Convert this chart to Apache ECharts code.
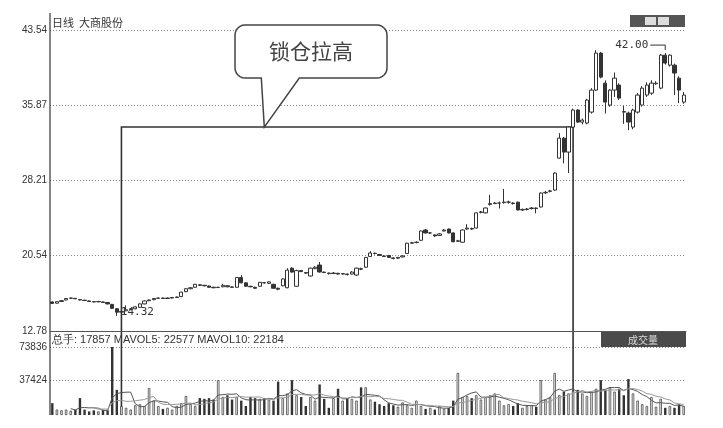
<!DOCTYPE html>
<html><head><meta charset="utf-8">
<script src="https://cdn.jsdelivr.net/npm/echarts@6/dist/echarts.min.js"></script>
<style>html,body{margin:0;padding:0;background:#fff}#c{width:723px;height:428px}</style>
</head><body><div id="c"></div>
<script>
// ---------- data ----------
const stockTitle = '日线  大商股份';
const calloutText = '锁仓拉高';
const priceTicks = [12.78, 20.54, 28.21, 35.87, 43.54];
const volTicks = [37424, 73836];
const volInfo = '总手: 17857 MAVOL5: 22577 MAVOL10: 22184';
const volButton = '成交量';
const highLabel = '42.00';
const lowLabel = '14.32';
// [open, close, low, high]
const candles = [
[15.75,15.60,15.55,15.80],[15.62,15.78,15.58,15.82],[15.80,15.88,15.75,15.95],[15.95,16.10,15.90,16.15],
[16.12,16.15,16.08,16.20],[16.12,16.08,16.02,16.15],[16.00,15.95,15.90,16.05],[15.92,15.90,15.85,15.98],
[15.85,15.80,15.75,15.90],[15.78,15.75,15.70,15.82],[15.76,15.80,15.72,15.85],[15.75,15.70,15.65,15.80],
[15.70,15.55,15.50,15.72],[15.50,15.10,15.05,15.55],[15.05,14.70,14.32,15.10],[14.70,14.78,14.60,14.85],
[14.85,14.95,14.80,15.40],[14.98,15.05,14.90,15.10],[15.05,15.25,15.00,15.30],[15.20,15.55,15.15,15.60],
[15.55,15.85,15.50,15.90],[15.88,15.95,15.82,16.00],[15.98,16.10,15.92,16.15],[16.12,16.15,16.08,16.20],
[16.15,16.10,16.05,16.20],[16.10,16.15,16.05,16.20],[16.15,16.20,16.10,16.25],[16.20,16.25,16.15,16.30],
[16.30,16.75,16.25,16.80],[16.80,17.10,16.75,17.15],[17.10,17.20,17.05,17.25],[17.25,17.55,17.20,17.60],
[17.50,17.45,17.38,17.55],[17.45,17.40,17.35,17.50],[17.38,17.25,17.20,17.42],[17.25,17.20,17.15,17.30],
[17.22,17.25,17.18,17.30],[17.30,17.45,17.25,17.60],[17.40,17.30,17.25,17.45],[17.28,17.25,17.20,17.32],
[17.25,18.25,17.20,18.30],[18.25,17.70,17.65,18.50],[17.70,17.35,17.30,17.75],[17.35,17.30,17.25,17.40],
[17.25,17.15,17.10,17.30],[17.35,17.75,17.30,17.80],[17.72,17.70,17.62,17.78],[17.65,17.80,17.60,17.85],
[17.55,17.15,17.10,17.60],[17.15,17.05,16.95,17.20],[17.40,18.10,17.35,18.15],[17.20,19.00,17.15,19.20],
[19.20,18.80,18.75,19.30],[17.35,18.95,17.30,19.05],[18.95,18.85,18.80,19.00],[18.75,18.70,18.60,18.80],
[18.40,19.20,18.35,19.25],[19.15,19.30,19.10,19.40],[19.52,18.81,18.75,19.83],[18.80,18.75,18.70,18.85],
[18.70,18.65,18.55,18.75],[18.65,18.70,18.60,18.80],[18.68,18.60,18.55,18.72],[18.60,18.65,18.55,18.70],
[18.60,18.55,18.45,18.65],[18.60,18.80,18.55,18.90],[18.50,19.20,18.40,19.25],[19.15,19.10,19.00,19.25],
[19.30,20.30,19.25,20.35],[20.40,20.75,20.35,20.95],[20.72,20.70,20.60,20.80],[20.60,20.50,20.45,20.65],
[20.45,20.40,20.35,20.50],[20.50,20.30,20.25,20.55],[20.25,20.20,20.10,20.30],[20.22,20.30,20.15,20.35],
[20.35,20.45,20.30,20.50],[20.70,21.75,20.65,21.80],[21.75,21.80,21.70,21.90],[21.82,21.85,21.75,21.95],
[22.05,23.00,22.00,23.05],[23.10,22.80,22.75,23.20],[22.80,22.80,22.70,22.90],[22.60,22.50,22.40,22.65],
[22.55,22.70,22.50,22.80],[23.00,23.10,22.95,23.20],[23.20,22.80,22.75,23.25],[22.80,21.90,21.85,22.85],
[21.95,22.00,21.90,22.10],[21.85,23.10,21.80,23.15],[23.20,23.30,23.10,23.70],[23.25,23.20,23.10,23.35],
[23.30,24.85,23.25,24.90],[24.90,24.95,24.80,25.05],[24.85,25.35,24.80,25.40],[25.70,25.80,25.60,26.70],
[25.80,25.85,25.75,25.95],[25.85,25.85,25.30,26.00],[25.90,25.95,25.80,27.30],[25.95,25.95,25.80,26.10],
[25.85,25.80,25.70,25.95],[25.95,25.15,25.10,26.00],[25.15,25.20,25.05,25.30],[25.20,25.25,25.10,25.35],
[25.30,25.35,25.20,25.45],[25.35,25.30,24.80,25.40],[25.45,26.88,25.40,26.95],[26.90,26.95,26.80,27.10],
[27.05,27.10,26.95,27.20],[27.18,28.92,27.10,29.00],[30.45,32.49,30.40,33.00],[32.49,31.06,29.90,32.60],
[31.06,33.62,28.92,33.70],[33.62,35.36,33.55,35.50],[35.36,34.13,34.05,35.45],[34.13,34.33,33.90,34.50],
[34.03,36.38,33.90,36.50],[35.15,37.40,35.00,37.60],[37.40,41.18,37.30,41.48],[41.18,38.73,38.60,41.30],
[38.11,36.17,35.00,38.40],[35.87,37.40,35.70,37.50],[37.40,38.62,36.70,39.20],[37.91,36.58,36.40,38.10],
[35.20,35.15,33.95,35.80],[35.05,34.13,33.30,35.20],[33.62,35.36,33.40,35.50],[35.15,36.89,35.00,37.10],
[35.87,37.60,35.70,37.80],[36.89,37.91,36.70,38.20],[37.09,38.11,36.90,38.40],[38.05,38.11,37.95,38.30],
[37.60,40.97,37.50,41.10],[40.97,40.16,40.00,41.18],[39.95,40.97,39.80,41.05],[39.95,39.14,36.89,40.10],
[38.62,37.40,36.07,38.80],[36.17,36.89,36.00,37.20]
];
const volumes = [
12870,5850,5070,5850,4680,5850,18330,5850,3900,5070,3900,5850,5070,73800,27300,9750,
7800,5850,10530,11700,9750,29250,15600,9750,6630,7800,5850,9750,12870,20670,11700,9750,
18330,17550,18330,16770,37830,19500,21450,16770,19500,15600,9750,19500,18330,17550,18330,16770,
15600,36270,18330,23400,37830,21450,19500,9750,19500,15600,33150,17550,7800,18330,28470,15600,
18330,17550,15600,30030,30030,16770,14430,11700,9750,12870,10530,8970,13650,10530,7800,15600,
9750,6630,7800,5850,9750,6630,7800,15600,45630,19500,20670,18330,21450,16770,19500,21450,
23400,15600,10530,11700,9750,12870,7800,9750,10530,8970,37830,16770,19500,45630,21450,25350,
23400,26130,27300,23400,20670,25350,28470,37830,27300,30030,25350,28470,21450,39000,23400,15600,
11700,9750,19500,8970,17550,7800,9750,7800,11700,9750
];
const categories = candles.map((_, i) => String(i + 1));
// annotation anchors (category index / value)
const lockStartIdx = 15, lockEndIdx = 113, lockPrice = 33.62, calloutIdx = 46;
const highIdx = 133, lowIdx = 14;

// ---------- derived ----------
function movingAvg(n) {
  return volumes.map((v, i) => {
    if (i < n - 1) return '-';
    let s = 0; for (let k = i - n + 1; k <= i; k++) s += volumes[k];
    return +(s / n).toFixed(0);
  });
}
const volData = volumes.map((v, i) => {
  const up = candles[i][1] >= candles[i][0];
  return { value: v, itemStyle: up ? { color: '#eee', borderColor: '#333', borderWidth: 0.7 } : { color: '#333' } };
});

const narrow = "'Liberation Sans Narrow','Liberation Sans',Arial,sans-serif";
const cjk = "'Noto Sans CJK SC',sans-serif";
const chart = echarts.init(document.getElementById('c'), null, { renderer: 'canvas' });
const option = {
  animation: false,
  backgroundColor: '#fff',
  grid: [
    { left: 50, right: 37, top: 30, height: 301 },
    { left: 50, right: 37, top: 347, height: 68 }
  ],
  xAxis: [
    { type: 'category', gridIndex: 0, data: categories, boundaryGap: true,
      axisLine: { show: true, lineStyle: { color: '#555', width: 1 } },
      axisTick: { show: false }, axisLabel: { show: false }, splitLine: { show: false } },
    { type: 'category', gridIndex: 1, data: categories, boundaryGap: true,
      axisLine: { show: false }, axisTick: { show: false }, axisLabel: { show: false }, splitLine: { show: false } }
  ],
  yAxis: [
    { type: 'value', gridIndex: 0, min: 12.78, max: 43.54, scale: true,
      axisLine: { show: false },
      axisTick: { show: false, customValues: priceTicks },
      axisLabel: { customValues: priceTicks, formatter: v => v.toFixed(2), fontSize: 10, color: '#333', margin: 3, fontFamily: narrow },
      splitLine: { show: true, lineStyle: { type: [1, 2], color: '#888', width: 1 } } },
    { type: 'value', gridIndex: 1, min: 0, max: 73836,
      axisLine: { show: false },
      axisTick: { show: false, customValues: volTicks },
      axisLabel: { customValues: volTicks, formatter: v => String(Math.round(v)), fontSize: 10, color: '#333', margin: 3, fontFamily: narrow },
      splitLine: { show: true, lineStyle: { type: [1, 2], color: '#888', width: 1 } } }
  ],
  series: [
    { type: 'candlestick', xAxisIndex: 0, yAxisIndex: 0, data: candles.map(c => [c[0], c[1], c[2], c[3]]),
      barWidth: 3.8,
      itemStyle: { color: '#fff', color0: '#333', borderColor: '#333', borderColor0: '#333', borderWidth: 1 } },
    { type: 'bar', xAxisIndex: 1, yAxisIndex: 1, data: volData, barWidth: 2.4 },
    { type: 'line', xAxisIndex: 1, yAxisIndex: 1, data: movingAvg(5), symbol: 'none', lineStyle: { color: '#555', width: 1 } },
    { type: 'line', xAxisIndex: 1, yAxisIndex: 1, data: movingAvg(10), symbol: 'none', lineStyle: { color: '#999', width: 1 } }
  ]
};
chart.setOption(option);

const P = (g, x, y) => chart.convertToPixel({ gridIndex: g }, [x, y]);
const tl = P(0, lockStartIdx, lockPrice);
const tr = P(0, lockEndIdx, lockPrice);
const bl = P(1, lockStartIdx, 0);
const br = P(1, lockEndIdx, 0);
const tip = P(0, calloutIdx, lockPrice);
const hi = P(0, highIdx, candles[highIdx][3]);
const lo = P(0, lowIdx, candles[lowIdx][2]);

// callout outline: rounded box with a pointer to the lock line
const r = 10, bx1 = 235, bx2 = 387, by1 = 25, by2 = 78;
function arc(cx, cy, a0, a1) {
  const pts = [];
  for (let k = 0; k <= 6; k++) {
    const a = a0 + (a1 - a0) * k / 6;
    pts.push([cx + r * Math.cos(a), cy + r * Math.sin(a)]);
  }
  return pts;
}
const H = Math.PI / 2;
const calloutPts = [].concat(
  arc(bx1 + r, by1 + r, 2 * H, 3 * H),
  arc(bx2 - r, by1 + r, 3 * H, 4 * H),
  arc(bx2 - r, by2 - r, 0, H),
  [[tip[0] + 35, by2], [tip[0], tip[1]], [tip[0] - 3, by2]],
  arc(bx1 + r, by2 - r, H, 2 * H)
);

chart.setOption({
  graphic: [
    { type: 'line', shape: { x1: 50, y1: 13, x2: 50, y2: 415 }, style: { stroke: '#333', lineWidth: 1.2 } },
    { type: 'text', x: 52, y: 17, style: { text: stockTitle, fontSize: 11, fill: '#333', verticalAlign: 'top', fontFamily: cjk } },
    { type: 'rect', shape: { x: 630, y: 15, width: 55, height: 12 }, style: { fill: '#555' } },
    { type: 'rect', shape: { x: 645, y: 17, width: 11, height: 8 }, style: { fill: '#ddd' } },
    { type: 'rect', shape: { x: 658, y: 17, width: 11, height: 8 }, style: { fill: '#ddd' } },
    { type: 'rect', shape: { x: 601, y: 332, width: 85, height: 15 }, style: { fill: '#4a4a4a' } },
    { type: 'text', x: 643, y: 340, style: { text: volButton, fontSize: 10, fill: '#ddd', align: 'center', verticalAlign: 'middle', fontFamily: cjk } },
    { type: 'text', x: 52, y: 340, style: { text: volInfo, fontSize: 11, fill: '#333', verticalAlign: 'middle', fontFamily: narrow } },
    { type: 'polyline', shape: { points: [[bl[0], bl[1]], [tl[0], tl[1]], [tr[0], tr[1]], [br[0], br[1]]] }, style: { stroke: '#333', lineWidth: 1.6, fill: null } },
    { type: 'polygon', shape: { points: calloutPts }, style: { fill: '#fff', stroke: '#444', lineWidth: 1.5 } },
    { type: 'text', x: (bx1 + bx2) / 2, y: (by1 + by2) / 2, style: { text: calloutText, fontSize: 21, fill: '#444', align: 'center', verticalAlign: 'middle', fontFamily: cjk } },
    { type: 'polyline', shape: { points: [[hi[0] - 15, hi[1] - 8], [hi[0], hi[1] - 8], [hi[0], hi[1] - 3]] }, style: { stroke: '#333', lineWidth: 1, fill: null } },
    { type: 'text', x: hi[0] - 17, y: hi[1] - 8, style: { text: highLabel, fontSize: 11, fill: '#333', align: 'right', verticalAlign: 'middle', fontFamily: "'DejaVu Sans Mono',monospace" } },
    { type: 'text', x: lo[0] + 4, y: lo[1] - 4, style: { text: lowLabel, fontSize: 11, fill: '#333', align: 'left', verticalAlign: 'middle', fontFamily: "'DejaVu Sans Mono',monospace" } }
  ]
});
</script></body></html>
